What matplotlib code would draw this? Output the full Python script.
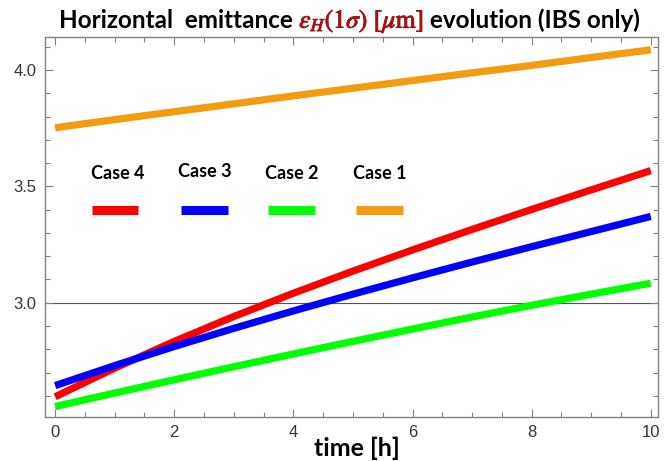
import numpy as np
import matplotlib
matplotlib.use("Agg")
import matplotlib.pyplot as plt
import matplotlib.patheffects as pe
from matplotlib.ticker import MultipleLocator
from matplotlib.offsetbox import TextArea, HPacker, AnnotationBbox

plt.rcParams['mathtext.fontset'] = 'stix'

time_h = [0, 1, 2, 3, 4, 5, 6, 7, 8, 9, 10]
case1 = [3.752, 3.787, 3.821, 3.855, 3.889, 3.922, 3.955, 3.988, 4.020, 4.054, 4.087]
case2 = [2.554, 2.612, 2.669, 2.725, 2.780, 2.834, 2.887, 2.939, 2.989, 3.037, 3.084]
case3 = [2.644, 2.730, 2.812, 2.890, 2.965, 3.037, 3.107, 3.175, 3.241, 3.306, 3.371]
case4 = [2.596, 2.719, 2.834, 2.941, 3.041, 3.136, 3.227, 3.315, 3.401, 3.485, 3.568]

labels = ["Case 4", "Case 3", "Case 2", "Case 1"]
colors = ["#FF0000", "#0000FF", "#00FF00", "#F39C12"]
series = [case4, case3, case2, case1]

fig = plt.figure(figsize=(6.7, 4.61), dpi=100)
ax = fig.add_axes([0.0672, 0.0954, 0.9148, 0.8243])

ax.axhline(3.0, color="#555555", lw=0.8, zorder=1)
for s, c in zip(series, colors):
    ax.plot(time_h, s, color=c, lw=5.2, solid_capstyle='butt', zorder=3)

ax.set_xlim(-0.17, 10.12)
ax.set_ylim(2.509, 4.142)
ax.xaxis.set_major_locator(MultipleLocator(2))
ax.xaxis.set_minor_locator(MultipleLocator(0.5))
ax.yaxis.set_major_locator(MultipleLocator(0.5))
ax.yaxis.set_minor_locator(MultipleLocator(0.1))
ax.set_yticks([3.0, 3.5, 4.0])
ax.set_yticklabels(["3.0", "3.5", "4.0"])
ax.tick_params(which='both', direction='in', top=True, right=True,
               color='#808080', labelcolor='#333333')
ax.tick_params(which='major', length=6, width=0.8, labelsize=12,
               pad=6)
ax.tick_params(which='minor', length=3.5, width=0.8)
for lab in ax.get_xticklabels() + ax.get_yticklabels():
    lab.set_family('Liberation Sans')
for sp in ax.spines.values():
    sp.set_color('#808080')
    sp.set_linewidth(1.0)

ax.set_xlabel("time [h]", family="Lato", fontweight="bold", fontsize=18,
              labelpad=-3, x=0.509)

# legend
text_x = [0.119, 0.261, 0.403, 0.546]
text_y = [0.64, 0.645, 0.64, 0.64]
line_x = [(0.077, 0.152), (0.222, 0.298), (0.364, 0.441), (0.507, 0.584)]
for lab, c, tx, ty, (x0, x1) in zip(labels, colors, text_x, text_y, line_x):
    ax.text(tx, ty, lab, transform=ax.transAxes, ha='center', va='center',
            family='Lato', fontweight='bold', fontsize=13, color='black')
    ax.plot([x0, x1], [0.545, 0.545], transform=ax.transAxes, color=c,
            lw=6.5, solid_capstyle='butt', zorder=4)

# title
tprops = dict(family='Lato', fontweight='bold', fontsize=17.5, color='black')
t1 = TextArea("Horizontal  emittance ", textprops=tprops)
t2 = TextArea(r"$\varepsilon_H(1\sigma)\ [\mu\mathrm{m}]$",
              textprops=dict(fontsize=18.5, color='#A01515',
                             path_effects=[pe.withStroke(linewidth=0.7,
                                                         foreground='#A01515')]))
t3 = TextArea(" evolution (IBS only)", textprops=tprops)
box = HPacker(children=[t1, t2, t3], align="baseline", pad=0, sep=0)
ab = AnnotationBbox(box, (0.522, 0.953), xycoords='figure fraction',
                    frameon=False, box_alignment=(0.5, 0.5))
fig.add_artist(ab)

fig.savefig("out.png", dpi=100)
